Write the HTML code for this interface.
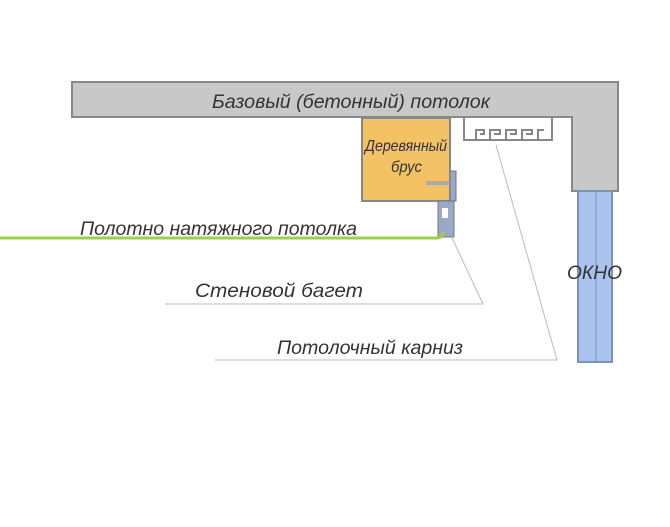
<!DOCTYPE html>
<html><head><meta charset="utf-8"><style>
body{margin:0;background:#fff;width:670px;height:522px;overflow:hidden}
svg text{font-family:"Liberation Sans",sans-serif;font-style:italic;fill:#333}
</style></head><body>
<svg width="670" height="522" viewBox="0 0 670 522" xmlns="http://www.w3.org/2000/svg">
<path d="M72,82 H618 V191 H572 V117 H72 Z" fill="#c8c8c8" stroke="#888" stroke-width="2"/>
<text x="212" y="108" font-size="19" textLength="278" lengthAdjust="spacingAndGlyphs">Базовый (бетонный) потолок</text>
<rect x="578" y="191" width="34" height="171" fill="#a9c3ec" stroke="#7c93bf" stroke-width="2"/>
<line x1="596" y1="191" x2="596" y2="362" stroke="#7c93bf" stroke-width="1"/>
<rect x="362" y="118" width="88" height="83" fill="#f3c265" stroke="#888" stroke-width="2"/>
<text x="365" y="151" font-size="16" textLength="82" lengthAdjust="spacingAndGlyphs">Деревянный</text>
<text x="391" y="172" font-size="16" textLength="31" lengthAdjust="spacingAndGlyphs">брус</text>
<rect x="426" y="181" width="26" height="4" fill="#aaa"/>
<rect x="450" y="171" width="6" height="30" fill="#9aa8c8" stroke="#777" stroke-width="1"/>
<rect x="438" y="201" width="16" height="36" fill="#9aa8c8" stroke="#777" stroke-width="1"/>
<rect x="442" y="208" width="6" height="10" fill="#fff"/>
<path d="M464,118 V140 H552 V118" fill="#fff" stroke="#888" stroke-width="2"/>
<path d="M476,140 V130 H484 V134 H480 M490,140 V130 H500 V134 H494 M506,140 V130 H516 V134 H510 M522,140 V130 H532 V134 H526 M538,140 V130 H544" fill="none" stroke="#888" stroke-width="2"/>
<path d="M0,238 H436 Q443,238 443,232" fill="none" stroke="#9bd048" stroke-width="3"/>
<text x="80" y="235" font-size="19" textLength="277" lengthAdjust="spacingAndGlyphs">Полотно натяжного потолка</text>
<path d="M165,304 H483 L452,238" fill="none" stroke="#bbb" stroke-width="1"/>
<text x="195" y="297" font-size="19" textLength="168" lengthAdjust="spacingAndGlyphs">Стеновой багет</text>
<path d="M215,360 H557 L496,145" fill="none" stroke="#bbb" stroke-width="1"/>
<text x="277" y="354" font-size="19" textLength="186" lengthAdjust="spacingAndGlyphs">Потолочный карниз</text>
<text x="567" y="279" font-size="19" textLength="55" lengthAdjust="spacingAndGlyphs">ОКНО</text>
</svg>
</body></html>
